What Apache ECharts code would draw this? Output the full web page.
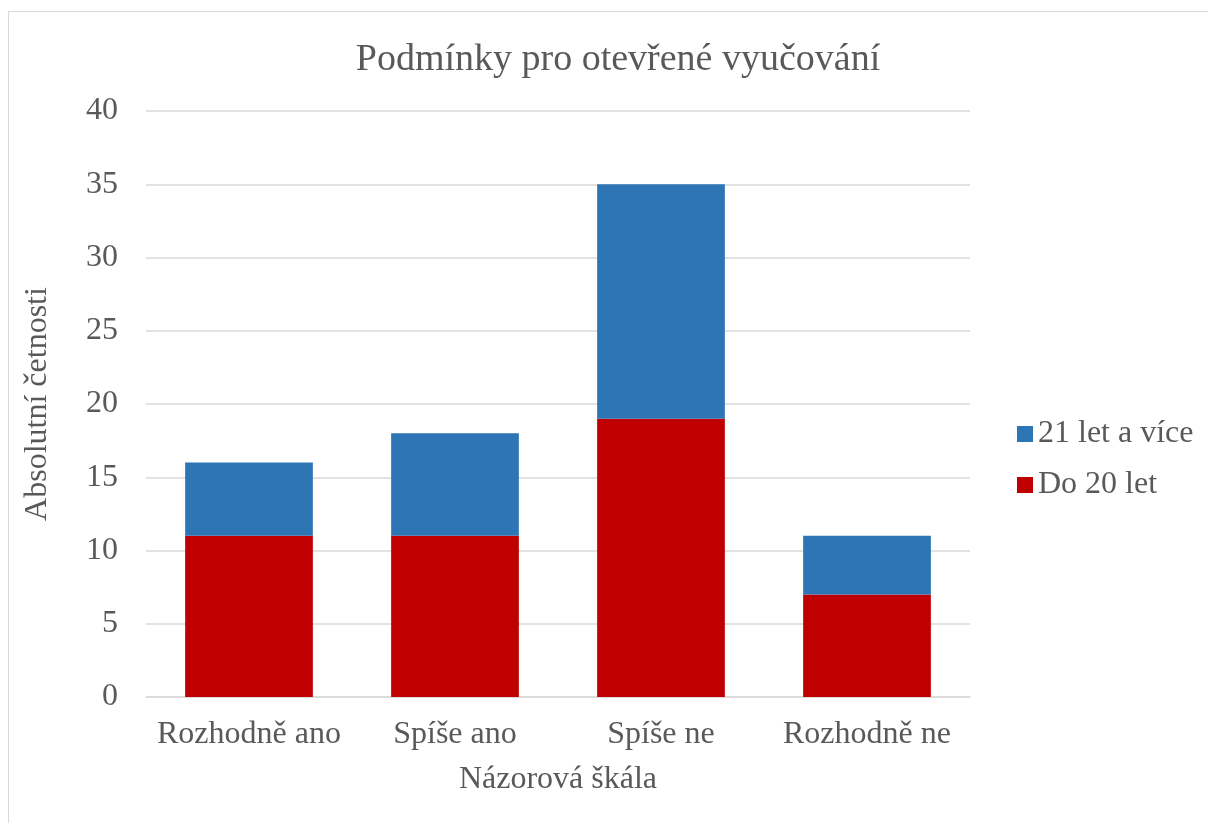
<!DOCTYPE html>
<html><head><meta charset="utf-8">
<script src="https://cdn.jsdelivr.net/npm/echarts@6/dist/echarts.min.js"></script>
<style>
html,body{margin:0;padding:0;background:#fff;overflow:hidden;}
#frame{position:absolute;left:8px;top:11px;width:1220px;height:830px;border:1px solid #D9D9D9;box-sizing:border-box;}
#c{position:absolute;left:0;top:0;width:1208px;height:823px;}
</style></head>
<body>
<div id="frame"></div>
<div id="c"></div>
<script>
const categories = ['Rozhodně ano', 'Spíše ano', 'Spíše ne', 'Rozhodně ne'];
const seriesNames = ['Do 20 let', '21 let a více'];
const do20 = [11, 11, 19, 7];
const over21 = [5, 7, 16, 4];
const yTicks = [0, 5, 10, 15, 20, 25, 30, 35, 40];

const font = '"Liberation Serif", "Times New Roman", serif';
const txt = '#595959';
const chart = echarts.init(document.getElementById('c'), null, {renderer: 'canvas'});
chart.setOption({
  backgroundColor: 'transparent',
  animation: false,
  title: {
    text: 'Podmínky pro otevřené vyučování',
    left: 613, top: 36, textAlign: 'center',
    textStyle: {fontFamily: font, fontSize: 38, fontWeight: 'normal', color: txt}
  },
  legend: {
    orient: 'vertical', left: 1012, top: 413,
    data: [seriesNames[1], seriesNames[0]],
    itemWidth: 16, itemHeight: 16, itemGap: 19, icon: 'rect',
    textStyle: {fontFamily: font, fontSize: 32, color: txt}
  },
  grid: {left: 146, right: 238, top: 111, bottom: 126},
  xAxis: {
    type: 'category', data: categories,
    name: 'Názorová škála', nameLocation: 'middle', nameGap: 67,
    nameTextStyle: {fontFamily: font, fontSize: 32, color: txt},
    axisLine: {lineStyle: {color: '#D9D9D9', width: 1.5}},
    axisTick: {show: false},
    axisLabel: {fontFamily: font, fontSize: 32, color: txt, margin: 22, interval: 0}
  },
  yAxis: {
    type: 'value', min: yTicks[0], max: yTicks[yTicks.length - 1], interval: 5,
    name: 'Absolutní četnosti', nameLocation: 'middle', nameGap: 92,
    nameTextStyle: {fontFamily: font, fontSize: 32, color: txt},
    axisLine: {show: false}, axisTick: {show: false},
    axisLabel: {fontFamily: font, fontSize: 32, color: txt, margin: 28},
    splitLine: {lineStyle: {color: '#D9D9D9', width: 1.5}}
  },
  series: [
    {name: seriesNames[0], type: 'bar', stack: 's', data: do20, barWidth: '62%',
     itemStyle: {color: '#C00000'}},
    {name: seriesNames[1], type: 'bar', stack: 's', data: over21, barWidth: '62%',
     itemStyle: {color: '#2E75B6'}}
  ]
});
</script>
</body></html>
